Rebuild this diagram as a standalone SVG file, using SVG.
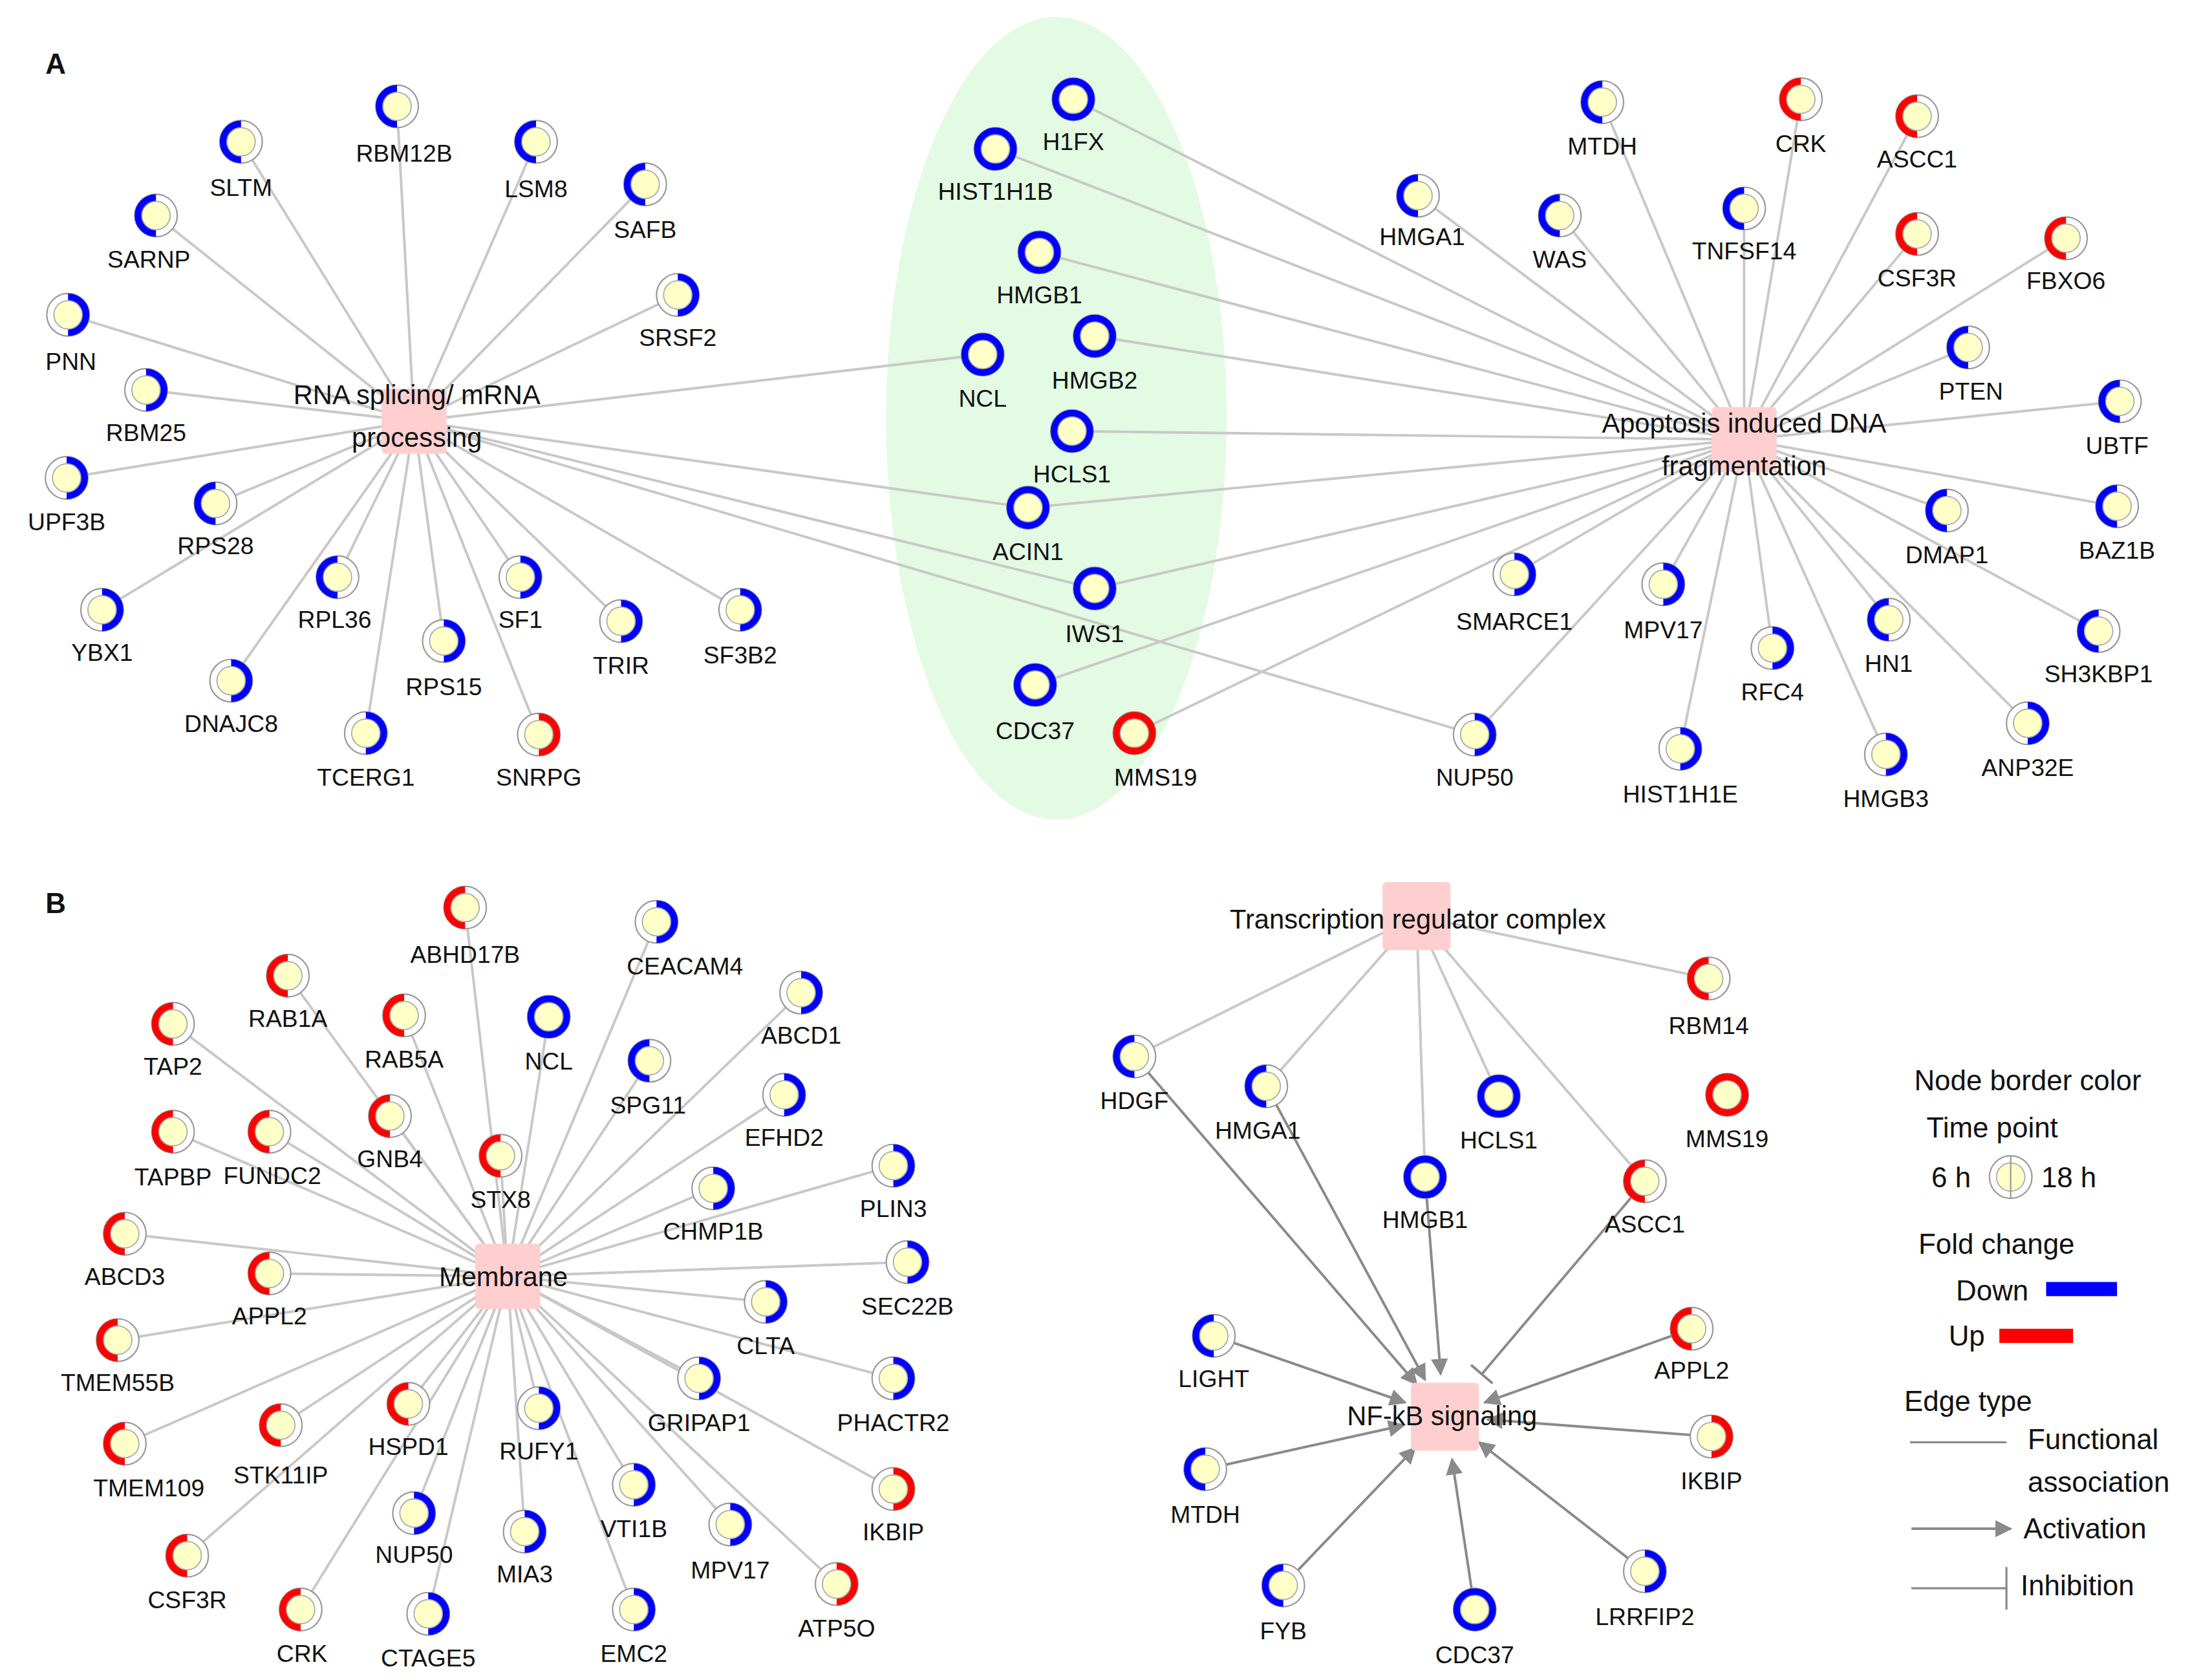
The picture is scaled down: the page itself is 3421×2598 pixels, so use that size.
<svg xmlns="http://www.w3.org/2000/svg" xmlns:xlink="http://www.w3.org/1999/xlink" width="3421" height="2598" viewBox="0 0 3421 2598">
<style>
text{font-family:"Liberation Sans",Arial,sans-serif;font-size:17px;fill:#111;text-anchor:middle}
.hub{font-size:19px}
.st{font-size:20px;font-weight:bold;text-anchor:start}
.lg{font-size:20px}
.fe line{stroke:#c8c8c8;stroke-width:1.8}
.ae line{stroke:#8a8a8a;stroke-width:1.8}
.hr{fill:#ffcfcf}
.o{fill:#fff;stroke:#999;stroke-width:1}
.i{fill:#ffffc8;stroke:#aaa;stroke-width:0.8}
.b{stroke:#0000ff;stroke-width:5;fill:none}
.r{stroke:#ff0000;stroke-width:5;fill:none}
</style>
<defs>
<marker id="arr" viewBox="0 0 10 10" refX="9" refY="5" markerWidth="12" markerHeight="12" markerUnits="userSpaceOnUse" orient="auto"><path d="M0,0L10,5L0,10z" fill="#8a8a8a"/></marker>
<g id="E"><circle r="15" class="o"/><circle r="10" class="i"/></g>
<g id="Lb"><circle r="15" class="o"/><path class="b" d="M0,-12.5A12.5,12.5 0 0 0 0,12.5"/><circle r="10" class="i"/></g>
<g id="Rb"><circle r="15" class="o"/><path class="b" d="M0,-12.5A12.5,12.5 0 0 1 0,12.5"/><circle r="10" class="i"/></g>
<g id="Fb"><circle r="15" class="o"/><circle class="b" r="12.5"/><circle r="10" class="i"/></g>
<g id="Lr"><circle r="15" class="o"/><path class="r" d="M0,-12.5A12.5,12.5 0 0 0 0,12.5"/><circle r="10" class="i"/></g>
<g id="Rr"><circle r="15" class="o"/><path class="r" d="M0,-12.5A12.5,12.5 0 0 1 0,12.5"/><circle r="10" class="i"/></g>
<g id="Fr"><circle r="15" class="o"/><circle class="r" r="12.5"/><circle r="10" class="i"/></g>
</defs>
<rect width="3421" height="2598" fill="#fff"/>
<g transform="scale(2.193)">
<text class="st" x="32" y="52">A</text>
<text class="st" x="32" y="644">B</text>
<ellipse cx="745" cy="295" rx="120" ry="283" fill="#e2fbe2"/>
<g id="connectors">
<g class="fe">
<line x1="292" y1="297" x2="170" y2="100"/><line x1="292" y1="297" x2="280" y2="75"/><line x1="292" y1="297" x2="378" y2="100"/><line x1="292" y1="297" x2="455" y2="130"/><line x1="292" y1="297" x2="478" y2="208"/><line x1="292" y1="297" x2="110" y2="152"/><line x1="292" y1="297" x2="48" y2="222"/><line x1="292" y1="297" x2="103" y2="275"/><line x1="292" y1="297" x2="47" y2="337"/><line x1="292" y1="297" x2="152" y2="355"/><line x1="292" y1="297" x2="72" y2="430"/><line x1="292" y1="297" x2="238" y2="407"/><line x1="292" y1="297" x2="163" y2="480"/><line x1="292" y1="297" x2="367" y2="407"/><line x1="292" y1="297" x2="313" y2="452"/><line x1="292" y1="297" x2="438" y2="438"/><line x1="292" y1="297" x2="522" y2="430"/><line x1="292" y1="297" x2="258" y2="517"/><line x1="292" y1="297" x2="380" y2="518"/>
<line x1="292" y1="297" x2="693" y2="250"/><line x1="292" y1="297" x2="725" y2="358"/><line x1="292" y1="297" x2="772" y2="415"/><line x1="292" y1="297" x2="1040" y2="518"/>
<line x1="1230" y1="310" x2="757" y2="70"/><line x1="1230" y1="310" x2="702" y2="105"/><line x1="1230" y1="310" x2="733" y2="178"/><line x1="1230" y1="310" x2="772" y2="237"/><line x1="1230" y1="310" x2="756" y2="304"/><line x1="1230" y1="310" x2="725" y2="358"/><line x1="1230" y1="310" x2="772" y2="415"/><line x1="1230" y1="310" x2="730" y2="483"/><line x1="1230" y1="310" x2="800" y2="517"/>
<line x1="1230" y1="310" x2="1130" y2="72"/><line x1="1230" y1="310" x2="1270" y2="70"/><line x1="1230" y1="310" x2="1352" y2="82"/><line x1="1230" y1="310" x2="1000" y2="138"/><line x1="1230" y1="310" x2="1100" y2="152"/><line x1="1230" y1="310" x2="1230" y2="147"/><line x1="1230" y1="310" x2="1352" y2="165"/><line x1="1230" y1="310" x2="1457" y2="168"/><line x1="1230" y1="310" x2="1388" y2="245"/><line x1="1230" y1="310" x2="1495" y2="283"/><line x1="1230" y1="310" x2="1373" y2="360"/><line x1="1230" y1="310" x2="1493" y2="357"/><line x1="1230" y1="310" x2="1068" y2="405"/><line x1="1230" y1="310" x2="1173" y2="412"/><line x1="1230" y1="310" x2="1480" y2="445"/><line x1="1230" y1="310" x2="1250" y2="457"/><line x1="1230" y1="310" x2="1332" y2="437"/><line x1="1230" y1="310" x2="1040" y2="518"/><line x1="1230" y1="310" x2="1185" y2="528"/><line x1="1230" y1="310" x2="1330" y2="532"/><line x1="1230" y1="310" x2="1430" y2="510"/>
<line x1="358" y1="900" x2="328" y2="640"/><line x1="358" y1="900" x2="463" y2="650"/><line x1="358" y1="900" x2="203" y2="688"/><line x1="358" y1="900" x2="285" y2="716"/><line x1="358" y1="900" x2="387" y2="717"/><line x1="358" y1="900" x2="565" y2="700"/><line x1="358" y1="900" x2="122" y2="722"/><line x1="358" y1="900" x2="458" y2="748"/><line x1="358" y1="900" x2="553" y2="772"/><line x1="358" y1="900" x2="122" y2="798"/><line x1="358" y1="900" x2="190" y2="798"/><line x1="358" y1="900" x2="275" y2="787"/><line x1="358" y1="900" x2="630" y2="822"/><line x1="358" y1="900" x2="353" y2="815"/><line x1="358" y1="900" x2="503" y2="838"/><line x1="358" y1="900" x2="88" y2="870"/><line x1="358" y1="900" x2="190" y2="898"/><line x1="358" y1="900" x2="640" y2="890"/><line x1="358" y1="900" x2="540" y2="918"/><line x1="358" y1="900" x2="83" y2="945"/><line x1="358" y1="900" x2="630" y2="972"/><line x1="358" y1="900" x2="493" y2="972"/><line x1="358" y1="900" x2="88" y2="1018"/><line x1="358" y1="900" x2="198" y2="1005"/><line x1="358" y1="900" x2="288" y2="990"/><line x1="358" y1="900" x2="380" y2="993"/><line x1="358" y1="900" x2="630" y2="1050"/><line x1="358" y1="900" x2="447" y2="1047"/><line x1="358" y1="900" x2="292" y2="1067"/><line x1="358" y1="900" x2="370" y2="1080"/><line x1="358" y1="900" x2="515" y2="1075"/><line x1="358" y1="900" x2="590" y2="1117"/><line x1="358" y1="900" x2="132" y2="1097"/><line x1="358" y1="900" x2="447" y2="1135"/><line x1="358" y1="900" x2="212" y2="1135"/><line x1="358" y1="900" x2="302" y2="1138"/>
<line x1="999" y1="646" x2="800" y2="745"/><line x1="999" y1="646" x2="893" y2="766"/><line x1="999" y1="646" x2="1005" y2="830"/><line x1="999" y1="646" x2="1057" y2="773"/><line x1="999" y1="646" x2="1160" y2="833"/><line x1="999" y1="646" x2="1205" y2="690"/>
</g>
<g class="ae">
<line x1="800" y1="745" x2="999" y2="976" marker-end="url(#arr)"/><line x1="893" y1="766" x2="1005" y2="973" marker-end="url(#arr)"/><line x1="1005" y1="830" x2="1016" y2="969" marker-end="url(#arr)"/><line x1="856" y1="942" x2="991" y2="989" marker-end="url(#arr)"/><line x1="850" y1="1036" x2="990" y2="1005" marker-end="url(#arr)"/><line x1="905" y1="1118" x2="998" y2="1021" marker-end="url(#arr)"/><line x1="1040" y1="1135" x2="1024" y2="1029" marker-end="url(#arr)"/><line x1="1160" y1="1108" x2="1043" y2="1017" marker-end="url(#arr)"/><line x1="1193" y1="937" x2="1047" y2="989" marker-end="url(#arr)"/><line x1="1207" y1="1013" x2="1049" y2="1001" marker-end="url(#arr)"/>
<line x1="1160" y1="833" x2="1045" y2="969"/><line x1="1037.4" y1="962.5" x2="1052.6" y2="975.5"/>
</g>
</g>
<g id="hubs">
<rect class="hr" x="269" y="274" width="46" height="46" rx="3"/>
<rect class="hr" x="1207" y="287" width="46" height="46" rx="3"/>
<rect class="hr" x="335" y="877" width="46" height="46" rx="3"/>
<rect class="hr" x="975" y="622" width="48" height="48" rx="3"/>
<rect class="hr" x="995" y="975" width="48" height="48" rx="3"/>
</g>
<g id="n_SLTM"><use href="#Lb" x="170" y="100"/><text x="170" y="138">SLTM</text></g>
<g id="n_RBM12B"><use href="#Lb" x="280" y="75"/><text x="285" y="114">RBM12B</text></g>
<g id="n_LSM8"><use href="#Lb" x="378" y="100"/><text x="378" y="139">LSM8</text></g>
<g id="n_SAFB"><use href="#Lb" x="455" y="130"/><text x="455" y="168">SAFB</text></g>
<g id="n_SRSF2"><use href="#Rb" x="478" y="208"/><text x="478" y="244">SRSF2</text></g>
<g id="n_SARNP"><use href="#Lb" x="110" y="152"/><text x="105" y="189">SARNP</text></g>
<g id="n_PNN"><use href="#Rb" x="48" y="222"/><text x="50" y="261">PNN</text></g>
<g id="n_RBM25"><use href="#Rb" x="103" y="275"/><text x="103" y="311">RBM25</text></g>
<g id="n_UPF3B"><use href="#Rb" x="47" y="337"/><text x="47" y="374">UPF3B</text></g>
<g id="n_RPS28"><use href="#Lb" x="152" y="355"/><text x="152" y="391">RPS28</text></g>
<g id="n_YBX1"><use href="#Rb" x="72" y="430"/><text x="72" y="466">YBX1</text></g>
<g id="n_RPL36"><use href="#Lb" x="238" y="407"/><text x="236" y="443">RPL36</text></g>
<g id="n_DNAJC8"><use href="#Rb" x="163" y="480"/><text x="163" y="516">DNAJC8</text></g>
<g id="n_SF1"><use href="#Rb" x="367" y="407"/><text x="367" y="443">SF1</text></g>
<g id="n_RPS15"><use href="#Rb" x="313" y="452"/><text x="313" y="490">RPS15</text></g>
<g id="n_TRIR"><use href="#Rb" x="438" y="438"/><text x="438" y="475">TRIR</text></g>
<g id="n_SF3B2"><use href="#Rb" x="522" y="430"/><text x="522" y="468">SF3B2</text></g>
<g id="n_TCERG1"><use href="#Rb" x="258" y="517"/><text x="258" y="554">TCERG1</text></g>
<g id="n_SNRPG"><use href="#Rr" x="380" y="518"/><text x="380" y="554">SNRPG</text></g>
<g id="n_H1FX"><use href="#Fb" x="757" y="70"/><text x="757" y="106" fill="#555">H1FX</text></g>
<g id="n_HIST1H1B"><use href="#Fb" x="702" y="105"/><text x="702" y="141">HIST1H1B</text></g>
<g id="n_HMGB1a"><use href="#Fb" x="733" y="178"/><text x="733" y="214">HMGB1</text></g>
<g id="n_NCLa"><use href="#Fb" x="693" y="250"/><text x="693" y="287">NCL</text></g>
<g id="n_HMGB2"><use href="#Fb" x="772" y="237"/><text x="772" y="274">HMGB2</text></g>
<g id="n_HCLS1a"><use href="#Fb" x="756" y="304"/><text x="756" y="340">HCLS1</text></g>
<g id="n_ACIN1"><use href="#Fb" x="725" y="358"/><text x="725" y="395">ACIN1</text></g>
<g id="n_IWS1"><use href="#Fb" x="772" y="415"/><text x="772" y="453">IWS1</text></g>
<g id="n_CDC37a"><use href="#Fb" x="730" y="483"/><text x="730" y="521">CDC37</text></g>
<g id="n_MMS19a"><use href="#Fr" x="800" y="517"/><text x="815" y="554">MMS19</text></g>
<g id="n_MTDHa"><use href="#Lb" x="1130" y="72"/><text x="1130" y="109">MTDH</text></g>
<g id="n_CRKa"><use href="#Lr" x="1270" y="70"/><text x="1270" y="107">CRK</text></g>
<g id="n_ASCC1a"><use href="#Lr" x="1352" y="82"/><text x="1352" y="118">ASCC1</text></g>
<g id="n_HMGA1a"><use href="#Lb" x="1000" y="138"/><text x="1003" y="173">HMGA1</text></g>
<g id="n_WAS"><use href="#Lb" x="1100" y="152"/><text x="1100" y="189">WAS</text></g>
<g id="n_TNFSF14"><use href="#Lb" x="1230" y="147"/><text x="1230" y="183">TNFSF14</text></g>
<g id="n_CSF3Ra"><use href="#Lr" x="1352" y="165"/><text x="1352" y="202">CSF3R</text></g>
<g id="n_FBXO6"><use href="#Lr" x="1457" y="168"/><text x="1457" y="204">FBXO6</text></g>
<g id="n_PTEN"><use href="#Lb" x="1388" y="245"/><text x="1390" y="282">PTEN</text></g>
<g id="n_UBTF"><use href="#Lb" x="1495" y="283"/><text x="1493" y="320">UBTF</text></g>
<g id="n_DMAP1"><use href="#Lb" x="1373" y="360"/><text x="1373" y="397">DMAP1</text></g>
<g id="n_BAZ1B"><use href="#Lb" x="1493" y="357"/><text x="1493" y="394">BAZ1B</text></g>
<g id="n_SMARCE1"><use href="#Rb" x="1068" y="405"/><text x="1068" y="444">SMARCE1</text></g>
<g id="n_MPV17a"><use href="#Rb" x="1173" y="412"/><text x="1173" y="450">MPV17</text></g>
<g id="n_SH3KBP1"><use href="#Lb" x="1480" y="445"/><text x="1480" y="481">SH3KBP1</text></g>
<g id="n_RFC4"><use href="#Rb" x="1250" y="457"/><text x="1250" y="494">RFC4</text></g>
<g id="n_HN1"><use href="#Lb" x="1332" y="437"/><text x="1332" y="474">HN1</text></g>
<g id="n_NUP50a"><use href="#Rb" x="1040" y="518"/><text x="1040" y="554">NUP50</text></g>
<g id="n_HIST1H1E"><use href="#Rb" x="1185" y="528"/><text x="1185" y="566">HIST1H1E</text></g>
<g id="n_HMGB3"><use href="#Rb" x="1330" y="532"/><text x="1330" y="569">HMGB3</text></g>
<g id="n_ANP32E"><use href="#Rb" x="1430" y="510"/><text x="1430" y="547">ANP32E</text></g>
<g id="n_ABHD17B"><use href="#Lr" x="328" y="640"/><text x="328" y="679">ABHD17B</text></g>
<g id="n_CEACAM4"><use href="#Rb" x="463" y="650"/><text x="483" y="687">CEACAM4</text></g>
<g id="n_RAB1A"><use href="#Lr" x="203" y="688"/><text x="203" y="724">RAB1A</text></g>
<g id="n_RAB5A"><use href="#Lr" x="285" y="716"/><text x="285" y="753">RAB5A</text></g>
<g id="n_NCLb"><use href="#Fb" x="387" y="717"/><text x="387" y="754">NCL</text></g>
<g id="n_ABCD1"><use href="#Rb" x="565" y="700"/><text x="565" y="736">ABCD1</text></g>
<g id="n_TAP2"><use href="#Lr" x="122" y="722"/><text x="122" y="758">TAP2</text></g>
<g id="n_SPG11"><use href="#Lb" x="458" y="748"/><text x="457" y="785">SPG11</text></g>
<g id="n_EFHD2"><use href="#Rb" x="553" y="772"/><text x="553" y="808">EFHD2</text></g>
<g id="n_TAPBP"><use href="#Lr" x="122" y="798"/><text x="122" y="836">TAPBP</text></g>
<g id="n_FUNDC2"><use href="#Lr" x="190" y="798"/><text x="192" y="835">FUNDC2</text></g>
<g id="n_GNB4"><use href="#Lr" x="275" y="787"/><text x="275" y="823">GNB4</text></g>
<g id="n_PLIN3"><use href="#Rb" x="630" y="822"/><text x="630" y="858">PLIN3</text></g>
<g id="n_STX8"><use href="#Lr" x="353" y="815"/><text x="353" y="852">STX8</text></g>
<g id="n_CHMP1B"><use href="#Rb" x="503" y="838"/><text x="503" y="874">CHMP1B</text></g>
<g id="n_ABCD3"><use href="#Lr" x="88" y="870"/><text x="88" y="906">ABCD3</text></g>
<g id="n_APPL2b"><use href="#Lr" x="190" y="898"/><text x="190" y="934">APPL2</text></g>
<g id="n_SEC22B"><use href="#Rb" x="640" y="890"/><text x="640" y="927">SEC22B</text></g>
<g id="n_CLTA"><use href="#Rb" x="540" y="918"/><text x="540" y="955">CLTA</text></g>
<g id="n_TMEM55B"><use href="#Lr" x="83" y="945"/><text x="83" y="981">TMEM55B</text></g>
<g id="n_PHACTR2"><use href="#Rb" x="630" y="972"/><text x="630" y="1009">PHACTR2</text></g>
<g id="n_GRIPAP1"><use href="#Rb" x="493" y="972"/><text x="493" y="1009">GRIPAP1</text></g>
<g id="n_TMEM109"><use href="#Lr" x="88" y="1018"/><text x="105" y="1055">TMEM109</text></g>
<g id="n_STK11IP"><use href="#Lr" x="198" y="1005"/><text x="198" y="1046">STK11IP</text></g>
<g id="n_HSPD1"><use href="#Lr" x="288" y="990"/><text x="288" y="1026">HSPD1</text></g>
<g id="n_RUFY1"><use href="#Rb" x="380" y="993"/><text x="380" y="1029">RUFY1</text></g>
<g id="n_IKBIPb"><use href="#Rr" x="630" y="1050"/><text x="630" y="1086">IKBIP</text></g>
<g id="n_VTI1B"><use href="#Rb" x="447" y="1047"/><text x="447" y="1084">VTI1B</text></g>
<g id="n_NUP50b"><use href="#Rb" x="292" y="1067"/><text x="292" y="1102">NUP50</text></g>
<g id="n_MIA3"><use href="#Rb" x="370" y="1080"/><text x="370" y="1116">MIA3</text></g>
<g id="n_MPV17b"><use href="#Rb" x="515" y="1075"/><text x="515" y="1113">MPV17</text></g>
<g id="n_ATP5O"><use href="#Rr" x="590" y="1117"/><text x="590" y="1154">ATP5O</text></g>
<g id="n_CSF3Rb"><use href="#Lr" x="132" y="1097"/><text x="132" y="1134">CSF3R</text></g>
<g id="n_EMC2"><use href="#Rb" x="447" y="1135"/><text x="447" y="1172">EMC2</text></g>
<g id="n_CRKb"><use href="#Lr" x="212" y="1135"/><text x="213" y="1172">CRK</text></g>
<g id="n_CTAGE5"><use href="#Rb" x="302" y="1138"/><text x="302" y="1175">CTAGE5</text></g>
<g id="n_RBM14"><use href="#Lr" x="1205" y="690"/><text x="1205" y="729">RBM14</text></g>
<g id="n_HDGF"><use href="#Lb" x="800" y="745"/><text x="800" y="782">HDGF</text></g>
<g id="n_HMGA1b"><use href="#Lb" x="893" y="766"/><text x="887" y="803">HMGA1</text></g>
<g id="n_HCLS1b"><use href="#Fb" x="1057" y="773"/><text x="1057" y="810">HCLS1</text></g>
<g id="n_MMS19b"><use href="#Fr" x="1218" y="772"/><text x="1218" y="809">MMS19</text></g>
<g id="n_HMGB1b"><use href="#Fb" x="1005" y="830"/><text x="1005" y="866">HMGB1</text></g>
<g id="n_ASCC1b"><use href="#Lr" x="1160" y="833"/><text x="1160" y="869">ASCC1</text></g>
<g id="n_LIGHT"><use href="#Lb" x="856" y="942"/><text x="856" y="978">LIGHT</text></g>
<g id="n_APPL2c"><use href="#Lr" x="1193" y="937"/><text x="1193" y="972">APPL2</text></g>
<g id="n_IKBIPc"><use href="#Rr" x="1207" y="1013"/><text x="1207" y="1050">IKBIP</text></g>
<g id="n_MTDHb"><use href="#Lb" x="850" y="1036"/><text x="850" y="1074">MTDH</text></g>
<g id="n_FYB"><use href="#Lb" x="905" y="1118"/><text x="905" y="1156">FYB</text></g>
<g id="n_CDC37b"><use href="#Fb" x="1040" y="1135"/><text x="1040" y="1173">CDC37</text></g>
<g id="n_LRRFIP2"><use href="#Rb" x="1160" y="1108"/><text x="1160" y="1146">LRRFIP2</text></g>
<g id="hub_labels">
<text class="hub" x="294" y="285">RNA splicing/ mRNA</text><text class="hub" x="294" y="315">processing</text>
<text class="hub" x="1230" y="305">Apoptosis induced DNA</text><text class="hub" x="1230" y="335">fragmentation</text>
<text class="hub" x="355" y="907">Membrane</text>
<text class="hub" x="1000" y="655">Transcription regulator complex</text>
<text class="hub" x="1017" y="1005">NF-kB signaling</text>
</g>
<g id="legend">
<text class="lg" x="1430" y="769">Node border color</text>
<text class="lg" x="1405" y="802">Time point</text>
<text class="lg" x="1376" y="837">6 h</text>
<use href="#E" x="1418" y="830"/><line x1="1418" y1="815" x2="1418" y2="845" stroke="#999" stroke-width="1"/>
<text class="lg" x="1459" y="837">18 h</text>
<text class="lg" x="1408" y="884">Fold change</text>
<text class="lg" x="1405" y="917">Down</text><rect x="1443" y="904" width="50" height="10" fill="#0000ff"/>
<text class="lg" x="1387" y="949">Up</text><rect x="1410" y="937" width="52" height="10" fill="#ff0000"/>
<text class="lg" x="1388" y="995">Edge type</text>
<line x1="1347" y1="1017" x2="1415" y2="1017" stroke="#8a8a8a" stroke-width="1.5"/>
<text class="lg" x="1430" y="1022" style="text-anchor:start">Functional</text>
<text class="lg" x="1430" y="1052" style="text-anchor:start">association</text>
<line x1="1348" y1="1078" x2="1418" y2="1078" stroke="#8a8a8a" stroke-width="1.8" marker-end="url(#arr)"/>
<text class="lg" x="1427" y="1085" style="text-anchor:start">Activation</text>
<line x1="1348" y1="1120" x2="1415" y2="1120" stroke="#8a8a8a" stroke-width="1.5"/><line x1="1415" y1="1105" x2="1415" y2="1135" stroke="#8a8a8a" stroke-width="1.5"/>
<text class="lg" x="1425" y="1125" style="text-anchor:start">Inhibition</text>
</g>
</g>
</svg>
